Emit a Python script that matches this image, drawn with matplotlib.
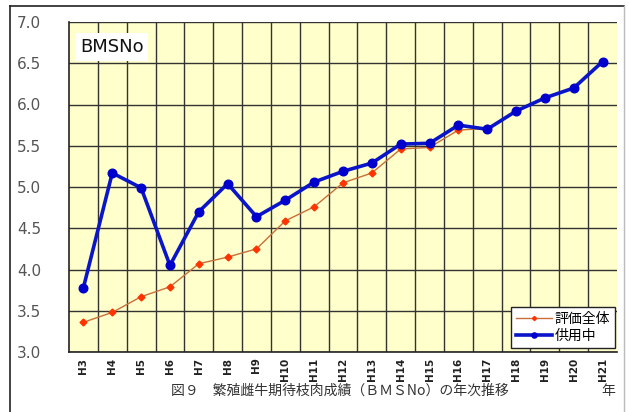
import matplotlib
matplotlib.use("Agg")
import matplotlib.pyplot as plt
from matplotlib.lines import Line2D

plt.rcParams['font.family'] = ['Noto Sans CJK JP', 'DejaVu Sans']

years = ["H3", "H4", "H5", "H6", "H7", "H8", "H9", "H10", "H11", "H12",
         "H13", "H14", "H15", "H16", "H17", "H18", "H19", "H20", "H21"]
overall = [3.36, 3.48, 3.67, 3.79, 4.07, 4.15, 4.25, 4.59, 4.76, 5.05,
           5.17, 5.46, 5.48, 5.69, 5.71, 5.92, 6.08, 6.20, 6.52]
in_use = [3.78, 5.17, 4.99, 4.05, 4.70, 5.04, 4.64, 4.84, 5.06, 5.19,
          5.29, 5.52, 5.53, 5.75, 5.70, 5.92, 6.08, 6.20, 6.52]
yticks = [3.0, 3.5, 4.0, 4.5, 5.0, 5.5, 6.0, 6.5, 7.0]
label_overall = "評価全体"
label_inuse = "供用中"
title_box = "BMSNo"
caption = "図９　繁殖雌牛期待枝肉成績（ＢＭＳNo）の年次推移"
x_unit = "年"

fig = plt.figure(figsize=(6.29, 4.12), dpi=100)
fig.patch.set_facecolor("white")

# outer frame
fig.add_artist(Line2D([10/629, 10/629], [0, 1-6/412], transform=fig.transFigure, color="#222222", lw=1.2))
fig.add_artist(Line2D([10/629, 624/629], [1-6/412, 1-6/412], transform=fig.transFigure, color="#222222", lw=1.2))
fig.add_artist(Line2D([624/629, 624/629], [0, 1-6/412], transform=fig.transFigure, color="#bbbbbb", lw=1.0))

ax = fig.add_axes([69/629, 1-352/412, (617-69)/629, (352-22)/412])
ax.set_facecolor("#FFFFCC")
x = list(range(len(years)))

ax.plot(x, overall, color="#C8703A", lw=1.0, marker="D", ms=3.5,
        mfc="#FF3300", mec="#FF3300", label=label_overall, zorder=3)
ax.plot(x, in_use, color="#0A14C8", lw=2.6, marker="o", ms=6.2,
        mfc="#0000CC", mec="#0000CC", label=label_inuse, zorder=4)

ax.set_xlim(-0.5, len(years)-0.5)
ax.set_ylim(3.0, 7.0)
ax.set_yticks(yticks)
ax.set_yticklabels([f"{v:.1f}" for v in yticks], color="#555555", fontsize=11,
                   family=["DejaVu Sans"])
ax.set_xticks(x)
ax.set_xticklabels(years, rotation=90, fontsize=7.5, fontweight="bold", color="#222222",
                   family=["DejaVu Sans"])
ax.set_xticks([i + 0.5 for i in x[:-1]], minor=True)
ax.tick_params(axis="both", which="both", length=0)
ax.tick_params(axis="y", pad=20)
ax.tick_params(axis="x", pad=4)
ax.grid(True, which="minor", axis="x", color="#333333", lw=1.0)
ax.grid(True, which="major", axis="y", color="#333333", lw=1.0)
ax.set_axisbelow(True)
for s in ["top", "right"]:
    ax.spines[s].set_visible(False)
for s in ["left", "bottom"]:
    ax.spines[s].set_color("#222222")
    ax.spines[s].set_linewidth(1.2)

ax.text(0.02, 0.925, title_box, transform=ax.transAxes, fontsize=13,
        family=["DejaVu Sans"], color="#111111",
        va="center", ha="left",
        bbox=dict(facecolor="white", edgecolor="none", pad=3.5))

leg = ax.legend(loc="lower right", bbox_to_anchor=(0.997, 0.012), borderaxespad=0,
                fontsize=10, frameon=True, fancybox=False, handlelength=2.6,
                handletextpad=0.2, borderpad=0.35, labelspacing=0.25, markerscale=0.6)
leg.get_frame().set_edgecolor("#222222")
leg.get_frame().set_linewidth(1.0)
leg.get_frame().set_alpha(1.0)

fig.text(340/629, 1-391/412, caption, fontsize=10, color="#333333", ha="center", va="center")
fig.text(608/629, 1-391/412, x_unit, fontsize=10, color="#333333", ha="center", va="center")

fig.savefig("out.png", dpi=100)
